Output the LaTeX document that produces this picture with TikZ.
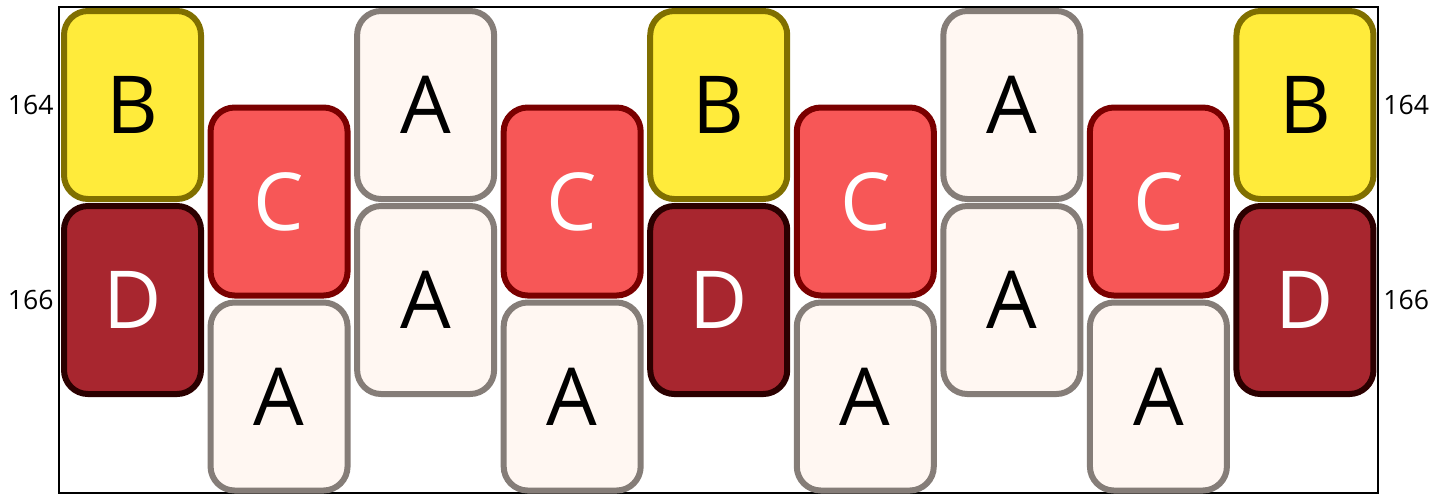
\documentclass[tikz,border=0pt]{standalone}
\usepackage{fontspec}
\setmainfont{Open Sans}
\usetikzlibrary{positioning}
\definecolor{BYellow}{RGB}{255,235,59}
\definecolor{BOlive}{RGB}{128,111,0}
\definecolor{CRed}{RGB}{247,87,87}
\definecolor{CDark}{RGB}{122,0,0}
\definecolor{DRed}{RGB}{168,38,47}
\definecolor{DDark}{RGB}{43,0,0}
\definecolor{AWhite}{RGB}{255,247,242}
\definecolor{AGray}{RGB}{133,125,120}
\tikzset{
  tile/.style={rounded corners=12pt,line width=3pt,inner sep=0pt,
    minimum width=68.5pt,minimum height=94pt,font=\fontsize{40}{40}\selectfont},
  tileA/.style={tile,draw=AGray,fill=AWhite,text=black},
  tileB/.style={tile,draw=BOlive,fill=BYellow,text=black},
  tileC/.style={tile,draw=CDark,fill=CRed,text=white},
  tileD/.style={tile,draw=DDark,fill=DRed,text=white},
  rowlabel/.style={inner sep=0pt,font=\fontsize{13.3}{13.3}\selectfont},
}
\begin{document}
\begin{tikzpicture}[x=0.5pt,y=-0.5pt]
    \useasboundingbox (0,0) rectangle (1447,495);
    \draw[line width=1pt] (59,7) rectangle (1378,493);
    \foreach \c/\topk/\botk/\off in {1/B/D/0,2/C/A/96.5,3/A/A/0,4/C/A/96.5,5/B/D/0,
        6/C/A/96.5,7/A/A/0,8/C/A/96.5,9/B/D/0} {
      \node[tile\topk] (t\c) at ({132.5+146.56*(\c-1)},{105+\off}) {\topk};
      \node[tile\botk] (b\c) at ({132.5+146.56*(\c-1)},{300+\off}) {\botk};
    }
    \node[rowlabel,anchor=east] (l164) at (54,105) {164};
    \node[rowlabel,anchor=east] (l166) at (54,300) {166};
    \node[rowlabel,anchor=west] (r164) at (1383,105) {164};
    \node[rowlabel,anchor=west] (r166) at (1383,300) {166};
  \end{tikzpicture}
\end{document}
